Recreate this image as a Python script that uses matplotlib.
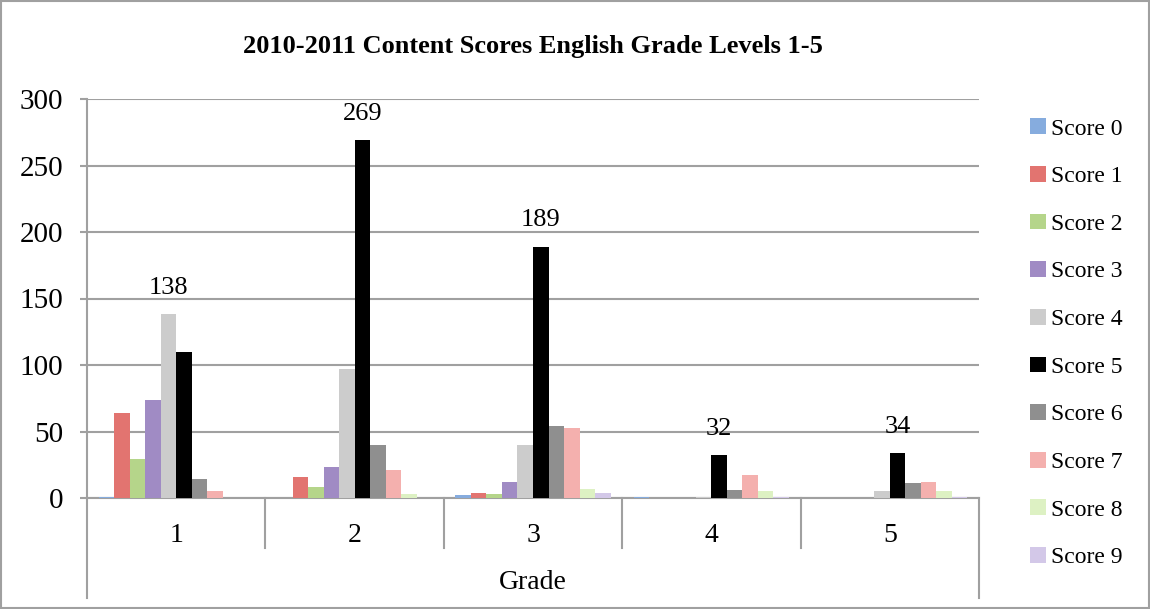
import matplotlib.pyplot as plt
import numpy as np

grades = ["1", "2", "3", "4", "5"]
score_names = ["Score 0", "Score 1", "Score 2", "Score 3", "Score 4",
               "Score 5", "Score 6", "Score 7", "Score 8", "Score 9"]
# rows: score 0..9, columns: grade 1..5
score0 = [1, 0, 2, 1, 0]
score1 = [64, 16, 4, 0, 0]
score2 = [29, 8, 3, 0, 0]
score3 = [74, 23, 12, 0, 0]
score4 = [138, 97, 40, 1, 5]
score5 = [110, 269, 189, 32, 34]
score6 = [14, 40, 54, 6, 11]
score7 = [5, 21, 53, 17, 12]
score8 = [0, 3, 7, 5, 5]
score9 = [0, 0, 4, 1, 1]
scores = [score0, score1, score2, score3, score4,
          score5, score6, score7, score8, score9]

colors = ["#86ACDE", "#E27470", "#B5D58A", "#A08BC4", "#CCCCCC",
          "#000000", "#8F8F8F", "#F4B0AE", "#DDF1C3", "#D3C8E8"]

plt.rcParams['font.family'] = ['Liberation Serif', 'DejaVu Serif']

fig = plt.figure(figsize=(11.5, 6.09), dpi=100)
ax = fig.add_axes([87 / 1150, 1 - 498 / 609, 892 / 1150, 399 / 609])

grid_c = "#A0A0A0"
x = np.arange(len(grades))
w = 1 / 11.5
for i, vals in enumerate(scores):
    ax.bar(x + (i - 4.5) * w, vals, width=w, color=colors[i],
           label=score_names[i], zorder=3)

# value labels on the tallest bar of each grade
for j in range(len(grades)):
    col = [s[j] for s in scores]
    k = int(np.argmax(col))
    ax.annotate(str(col[k]), (x[j] + (k - 4.5) * w, col[k]),
                xytext=(0, 11), textcoords="offset points",
                ha="center", va="bottom", fontsize=19)

ax.set_xlim(-0.5, 4.5)
ax.set_ylim(0, 300)
ax.set_yticks(range(0, 301, 50))
ax.yaxis.grid(True, color=grid_c, linewidth=1.5, zorder=0)
ax.set_axisbelow(True)
ax.tick_params(axis="y", length=5, width=1.5, color=grid_c, pad=12, labelsize=21)
ax.set_xticks(x)
ax.set_xticklabels(grades)
ax.tick_params(axis="x", length=0, pad=18, labelsize=20)

for s in ["top", "right"]:
    ax.spines[s].set_visible(False)
ax.spines["left"].set_color(grid_c)
ax.spines["bottom"].set_color(grid_c)
ax.spines["left"].set_linewidth(1.5)
ax.spines["bottom"].set_linewidth(1.5)

# category separators below the axis
trans = ax.get_xaxis_transform()
for b in np.arange(0.5, 4.0, 1.0):
    ax.plot([b, b], [0, -0.125], color=grid_c, lw=1.5, transform=trans, clip_on=False)
for b in [-0.5, 4.5]:
    ax.plot([b, b], [0, -0.25], color=grid_c, lw=1.5, transform=trans, clip_on=False)

ax.text(2, -0.212, "Grade", transform=trans, ha="center", va="center", fontsize=20)

fig.text(0.5 * (87 + 979) / 1150, 1 - 46 / 609,
         "2010-2011 Content Scores English Grade Levels 1-5",
         ha="center", va="center", fontsize=19, fontweight="bold")

ax.legend(loc="upper left", bbox_to_anchor=(1021 / 1150, 1 - 109 / 609),
          bbox_transform=fig.transFigure, frameon=False, fontsize=17,
          handlelength=0.65, handleheight=0.65, handletextpad=0.2,
          labelspacing=1.12, borderaxespad=0)

fig.add_artist(plt.Rectangle((0.001, 0.001), 0.998, 0.997, transform=fig.transFigure,
                             fill=False, edgecolor=grid_c, linewidth=1.5))

fig.savefig("out.png", dpi=100)
